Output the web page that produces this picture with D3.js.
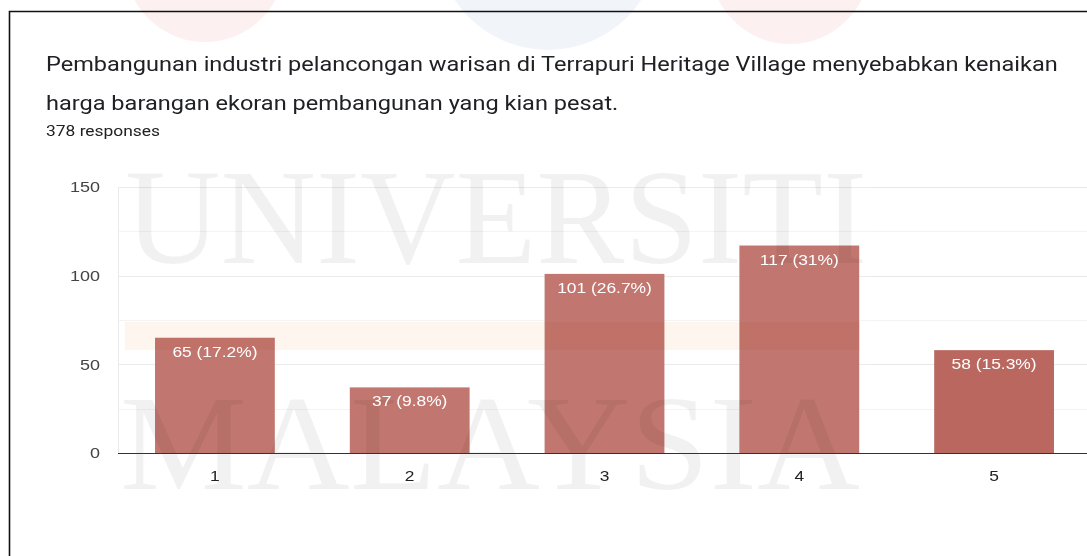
<!DOCTYPE html>
<html>
<head>
<meta charset="utf-8">
<script src="https://cdn.jsdelivr.net/npm/d3@7"></script>
<style>
  html, body { margin: 0; padding: 0; background: #fff; }
  svg { display: block; }
</style>
</head>
<body>
<div id="chart"></div>
<script>
// chart data
const titleLines = [
  'Pembangunan industri pelancongan warisan di Terrapuri Heritage Village menyebabkan kenaikan',
  'harga barangan ekoran pembangunan yang kian pesat.'
];
const responses = '378 responses';
const categories = ['1', '2', '3', '4', '5'];
const counts = [65, 37, 101, 117, 58];
const percents = ['17.2%', '9.8%', '26.7%', '31%', '15.3%'];
const yTicks = [0, 50, 100, 150];
const yMinorTicks = [25, 75, 125];

const W = 1087, H = 556;
const margin = { left: 118, right: -4, top: 187, bottom: 103 };
const SX = 1.16; // the screenshot is a bit wider than tall

const svg = d3.select('#chart').append('svg')
  .attr('width', W)
  .attr('height', H);

// put a text at (px, py) and stretch it sideways
function place(sel, px, py) {
  sel.attr('x', 0).attr('y', 0)
    .attr('transform', (d, i) => `translate(${px(d, i)},${py(d, i)}) scale(${SX},1)`);
}

// faint logo circles behind the card top
const logo = svg.append('g');
logo.append('circle').attr('cx', 205).attr('cy', -38).attr('r', 80).attr('fill', '#fdf0f0');
logo.append('circle').attr('cx', 548).attr('cy', -62).attr('r', 112).attr('fill', '#f1f5fa');
logo.append('circle').attr('cx', 790).attr('cy', -36).attr('r', 80).attr('fill', '#fdf0f0');

// card border (top + left)
svg.append('path')
  .attr('d', `M9.5,${H} V11.5 H${W}`)
  .attr('fill', 'none')
  .attr('stroke', '#111')
  .attr('stroke-width', 1.6);

// title
const title = svg.append('g')
  .attr('font-family', 'Roboto, sans-serif')
  .attr('fill', '#202124');

title.selectAll('text.t')
  .data(titleLines)
  .join('text')
  .attr('class', 't')
  .attr('font-size', 20.3)
  .text(d => d)
  .call(place, () => 46, (d, i) => 71 + i * 38.5);

title.append('text')
  .attr('font-size', 15)
  .text(responses)
  .call(place, () => 46, () => 136);

// scales
const x = d3.scaleBand()
  .domain(categories)
  .range([margin.left, W - margin.right])
  .paddingInner(0.385)
  .paddingOuter(0.19);

const y = d3.scaleLinear()
  .domain([0, 150])
  .range([H - margin.bottom, margin.top]);

// grid
const grid = svg.append('g');
grid.selectAll('line.minor')
  .data(yMinorTicks)
  .join('line')
  .attr('class', 'minor')
  .attr('x1', margin.left).attr('x2', W)
  .attr('y1', d => Math.round(y(d)) + 0.5).attr('y2', d => Math.round(y(d)) + 0.5)
  .attr('stroke', '#f3f3f3');
grid.selectAll('line.major')
  .data(yTicks.filter(d => d > 0))
  .join('line')
  .attr('class', 'major')
  .attr('x1', margin.left).attr('x2', W)
  .attr('y1', d => Math.round(y(d)) + 0.5).attr('y2', d => Math.round(y(d)) + 0.5)
  .attr('stroke', '#e8e8e8');
grid.append('line')
  .attr('x1', margin.left + 0.5).attr('x2', margin.left + 0.5)
  .attr('y1', y(150)).attr('y2', y(0))
  .attr('stroke', '#e8e8e8');

// y axis labels
const yAxis = svg.append('g')
  .call(d3.axisLeft(y).tickValues(yTicks).tickSize(0).tickPadding(0));
yAxis.select('.domain').remove();
yAxis.selectAll('.tick').attr('transform', null);
yAxis.selectAll('text')
  .attr('font-family', 'Arial, "Liberation Sans", sans-serif')
  .attr('font-size', 15.5)
  .attr('fill', '#444')
  .attr('dy', '0.35em')
  .call(place, () => margin.left - 18, d => y(d));

// bars
svg.append('g')
  .selectAll('rect')
  .data(counts)
  .join('rect')
  .attr('x', (d, i) => x(categories[i]))
  .attr('width', x.bandwidth())
  .attr('y', d => y(d))
  .attr('height', d => y(0) - y(d))
  .attr('fill', '#ba685f');

// watermark overlay
const wm = svg.append('g');
wm.append('rect')
  .attr('x', 118).attr('y', 160).attr('width', 752).attr('height', 340)
  .attr('fill', '#fff').attr('opacity', 0.1);
wm.append('rect')
  .attr('x', 125).attr('y', 322).attr('width', 735).attr('height', 28)
  .attr('fill', '#fef5ee')
  .style('mix-blend-mode', 'multiply');
wm.append('text')
  .attr('x', 125).attr('y', 263)
  .attr('font-family', '"Liberation Serif", "DejaVu Serif", serif')
  .attr('font-size', 136)
  .attr('textLength', 742)
  .attr('lengthAdjust', 'spacingAndGlyphs')
  .attr('fill', '#000').attr('opacity', 0.05)
  .text('UNIVERSITI');
wm.append('text')
  .attr('x', 120).attr('y', 489)
  .attr('font-family', '"Liberation Serif", "DejaVu Serif", serif')
  .attr('font-size', 136)
  .attr('textLength', 740)
  .attr('lengthAdjust', 'spacingAndGlyphs')
  .attr('fill', '#000').attr('opacity', 0.05)
  .text('MALAYSIA');

// baseline
svg.append('line')
  .attr('x1', margin.left).attr('x2', W)
  .attr('y1', Math.round(y(0)) + 0.5).attr('y2', Math.round(y(0)) + 0.5)
  .attr('stroke', '#333');

// value labels
svg.append('g')
  .selectAll('text')
  .data(counts)
  .join('text')
  .attr('text-anchor', 'middle')
  .attr('font-family', 'Arial, "Liberation Sans", sans-serif')
  .attr('font-size', 15)
  .attr('fill', '#fff')
  .text((d, i) => `${d} (${percents[i]})`)
  .call(place, (d, i) => x(categories[i]) + x.bandwidth() / 2, d => y(d) + 19);

// x axis labels
const xAxis = svg.append('g')
  .call(d3.axisBottom(x).tickSize(0).tickPadding(0));
xAxis.select('.domain').remove();
xAxis.selectAll('.tick').attr('transform', null);
xAxis.selectAll('text')
  .attr('dy', '0.71em')
  .attr('font-family', 'Arial, "Liberation Sans", sans-serif')
  .attr('font-size', 15)
  .attr('fill', '#222')
  .call(place, d => x(d) + x.bandwidth() / 2, () => y(0) + 17);
</script>
</body>
</html>
